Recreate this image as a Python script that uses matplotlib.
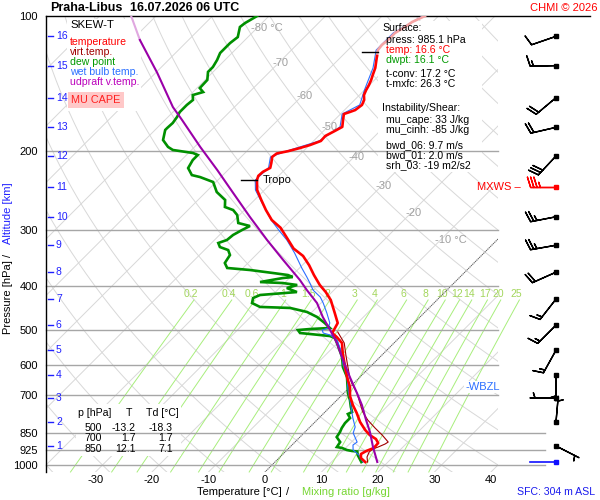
import numpy as np
import matplotlib
matplotlib.use("Agg")
import matplotlib.pyplot as plt
from matplotlib.patches import Rectangle
import matplotlib.transforms as mtransforms
from matplotlib.ticker import NullLocator, NullFormatter

plt.rcParams['font.family'] = ['Liberation Sans', 'DejaVu Sans']

# ------------------------------------------------------------------ data
STATION = "Praha-Libus"
TIMESTAMP = "16.07.2026 06 UTC"

# temperature
P_T = [100, 103.1, 105.8, 109.1, 113.1, 116.0, 119.1, 122.8, 126.6, 130.5, 135.3, 138.8, 142.4, 146.2,
       150.0, 153.8, 157.8, 162.0, 163.6, 165.3, 170.4, 176.6, 180.3, 185.0, 189.8, 193.8, 196.9, 200.0,
       202.4, 206.0, 212.3, 217.9, 222.4, 227.0, 231.9, 244.1, 256.9, 270.5, 284.7, 296.1, 312.3, 329.5,
       342.3, 358.9, 377.5, 397.3, 411.9, 429.1, 444.6, 458.6, 482.8, 495.3, 508.2, 518.7, 535.0, 563.2,
       605.0, 636.8, 670.4, 702.2, 735.3, 766.1, 802.4, 835.7, 857.6, 875.3, 893.4, 916.5, 930.8, 945.3,
       964.7, 985.1]
T_C = [-52.4, -53.6, -54.0, -54.7, -54.7, -54.9, -54.7, -53.8, -52.9, -52.0, -51.2, -50.6, -50.1, -49.7,
       -49.2, -48.3, -47.8, -48.1, -48.7, -49.4, -48.5, -47.4, -48.0, -48.8, -48.7, -49.9, -51.2, -52.7,
       -54.3, -54.5, -53.6, -52.9, -53.5, -53.6, -53.1, -51.3, -48.8, -46.2, -43.4, -40.5, -37.5, -34.5,
       -31.5, -28.8, -26.2, -23.4, -21.1, -18.8, -17.2, -15.8, -13.5, -13.1, -12.7, -11.2, -9.2, -7.3,
       -4.4, -2.3, 0.0, 1.6, 3.7, 5.8, 8.0, 10.3, 12.0, 13.8, 14.9, 15.0, 14.2, 13.8,
       14.5, 16.0]

# virtual temperature (lower part, above it coincides with temperature)
P_TV = [505.6, 535.0, 568.8, 608.1, 640.3, 656.9, 691.4, 727.8, 762.2, 794.2, 827.3, 857.6, 888.9,
        898.0, 912.0, 921.3, 935.5, 959.8, 985.1]
TV_C = [-11.9, -8.8, -6.4, -3.7, -1.6, -0.4, 2.3, 4.6, 6.7, 9.0, 11.7, 14.2, 16.5,
        16.3, 15.6, 15.0, 14.9, 15.4, 16.4]

# wet bulb temperature
P_TW = [100, 109.1, 119.1, 130.5, 146.2, 157.8, 165.3, 176.6, 189.8, 200.0, 206.0, 217.9, 231.9, 244.1,
        261.0, 284.7, 299.7, 315.4, 337.3, 364.1, 381.4, 393.3, 407.7, 422.5, 435.8, 458.6, 482.8, 495.3,
        500.5, 508.2, 513.5, 526.8, 560.3, 598.9, 636.8, 680.8, 716.7, 786.0, 823.1, 848.6, 888.9, 902.6,
        926.0, 950.0, 985.1]
TW_C = [-52.8, -55.0, -55.0, -52.4, -50.0, -48.2, -49.7, -47.8, -49.0, -53.0, -54.8, -53.2, -53.4, -51.6,
        -48.1, -43.5, -40.4, -37.2, -33.5, -29.6, -27.1, -25.5, -23.7, -21.2, -19.6, -17.2, -14.9, -14.3,
        -15.0, -14.3, -12.7, -10.6, -7.7, -5.1, -2.3, 0.2, 2.3, 6.0, 8.0, 8.7, 11.0, 10.8,
        11.7, 13.6, 15.6]

# dew point
P_TD = [100, 103.7, 105.8, 111.4, 114.9, 120.9, 125.3, 129.9, 133.2, 138.8, 144.7, 147.7, 150.0, 153.8,
        157.8, 163.6, 167.9, 173.1, 177.6, 179.4, 188.9, 195.7, 198.8, 201.9, 204.0, 209.3, 218.1, 226.1,
        228.4, 234.3, 246.6, 256.9, 266.3, 270.5, 277.5, 289.1, 293.6, 299.7, 307.4, 315.4, 320.3, 327.0,
        332.1, 340.7, 354.9, 364.1, 367.9, 373.6, 377.5, 381.4, 383.4, 391.3, 393.3, 397.3, 403.5, 411.9,
        418.2, 424.7, 435.8, 444.6, 446.9, 456.2, 468.2, 482.8, 495.3, 497.9, 500.5, 508.2, 513.5, 516.1,
        521.5, 540.5, 574.9, 605.0, 636.8, 691.4, 716.7, 742.9, 762.2, 769.9, 786.0, 806.5, 827.3, 844.4,
        866.5, 888.9, 912.0, 916.5, 926.0, 930.8, 933.0, 950.0, 985.1]
TD_C = [-82.1, -83.0, -83.2, -81.8, -82.1, -82.1, -81.4, -80.9, -80.9, -79.6, -79.5, -78.2, -79.5, -78.6,
        -78.8, -78.8, -78.4, -78.1, -78.2, -78.2, -76.8, -74.7, -73.3, -69.2, -68.0, -68.0, -67.4, -65.5,
        -63.7, -60.5, -58.1, -55.2, -54.0, -52.0, -50.4, -48.8, -46.2, -46.9, -47.6, -47.8, -48.8, -47.8,
        -45.8, -44.6, -44.1, -42.8, -38.4, -33.8, -30.8, -29.6, -31.2, -34.5, -30.3, -27.4, -28.7, -26.2,
        -32.2, -32.9, -32.2, -30.1, -24.6, -20.9, -18.2, -15.8, -14.0, -17.3, -19.3, -18.4, -14.5, -12.6,
        -11.3, -9.6, -6.7, -4.8, -2.3, 0.7, 2.3, 3.7, 4.8, 4.4, 5.5, 5.5, 5.8, 6.2,
        6.5, 8.0, 8.3, 9.4, 10.6, 11.7, 12.7, 13.4, 15.3]

# updraft (MU parcel) virtual temperature
P_PAR = [100, 113.1, 133.9, 159.5, 170.4, 195.7, 220.3, 247.9, 280.3, 315.4, 349.5, 387.3, 407.7,
         435.8, 468.2, 500.5, 535.0, 583.8, 636.8, 691.4, 735.3, 794.2, 844.4, 912.0, 984.7]
TPAR_C = [-104.4, -98.6, -89.7, -80.9, -77.0, -69.0, -61.9, -55.0, -47.8, -40.7, -34.3, -27.8, -24.8,
          -20.7, -17.2, -13.6, -10.1, -6.0, -1.8, 2.3, 5.3, 8.7, 11.5, 14.7, 18.1]

# altitude scale (km) and winds at those levels
ALT_KM = list(range(1, 17))
ALT_P = [907, 802, 709, 630, 555, 488, 427, 372, 324, 280, 240, 205, 177, 152, 129, 111]
WDIR = [117, 5, 270, 180, 209, 225, 218, 246, 260, 259, 270, 223, 257, 230, 269, 251]
WSPD_KT = [5, 5, 5, 5, 15, 15, 15, 20, 25, 25, 35, 30, 20, 20, 15, 10]
MXWS_KM = 11

P_LEVELS = [100, 200, 300, 400, 500, 600, 700, 850, 925, 1000]
T_TICKS = [-30, -20, -10, 0, 10, 20, 30, 40]
ISO_LABEL_T = [-80, -70, -60, -50, -40, -30, -20, -10]
ISO_LABEL_P = [106.3, 127.3, 150.7, 176.6, 206.0, 239.2, 274.4, 315.4]
ISO_LABEL_TXT = ["-80 °C", "-70", "-60", "-50", "-40", "-30", "-20", "-10 °C"]
MIX_RATIOS = [0.2, 0.4, 0.6, 1, 1.5, 2, 3, 4, 6, 8, 10, 12, 14, 17, 20, 25]

SFC_P = 985.1
TROPO_P = 231.9
TOP_MARK_P = 120.5
WBZL_P = 670

SURFACE_LINES = [("Surface:", "black", 0), ("press: 985.1 hPa", "black", 1), ("temp: 16.6 °C", "#ff0000", 1),
                 ("dwpt: 16.1 °C", "#009900", 1), ("t-conv: 17.2 °C", "black", 1), ("t-mxfc: 26.3 °C", "black", 1),
                 ("Instability/Shear:", "black", 0), ("mu_cape: 33 J/kg", "black", 1),
                 ("mu_cinh: -85 J/kg", "black", 1), ("bwd_06: 9.7 m/s", "black", 1),
                 ("bwd_01: 2.0 m/s", "black", 1), ("srh_03: -19 m2/s2", "black", 1)]
SURFACE_Y = [28, 40, 50, 60, 74, 84, 108, 120, 130, 145, 155, 165]

TAB_P = ["500", "700", "850"]
TAB_T = ["-13.2", "1.7", "12.1"]
TAB_TD = ["-18.3", "1.7", "7.1"]

# ------------------------------------------------------------------ geometry
W, H = 600, 500
AX_L, AX_R, AX_T, AX_B = 46, 498, 16, 472
PX_PER_DEC = 449.0
PX_PER_C = 5.65
SKEW = PX_PER_DEC / PX_PER_C
P_BOT = 100 * 10 ** ((AX_B - AX_T) / PX_PER_DEC)


def skx(t, p):
    return np.asarray(t, float) + SKEW * np.log10(1000.0 / np.asarray(p, float))


def xpx(px):
    return (px - 272.0) / PX_PER_C


def fx(px):
    return px / W


def fy(py):
    return 1 - py / H


fig = plt.figure(figsize=(6, 5), dpi=100)
ax = fig.add_axes([fx(AX_L), fy(AX_B), (AX_R - AX_L) / W, (AX_B - AX_T) / H])
ax.set_yscale('log')
ax.set_xlim(-40, 40)
ax.set_ylim(P_BOT, 100)
for s in ['top', 'right', 'bottom']:
    ax.spines[s].set_visible(False)
ax.spines['left'].set_linewidth(1.0)
ax.set_yticks(P_LEVELS)
ax.set_yticklabels([str(p) for p in P_LEVELS])
ax.yaxis.set_minor_locator(NullLocator())
ax.yaxis.set_minor_formatter(NullFormatter())
ax.tick_params(axis='y', length=0, pad=6, labelsize=8)
ax.set_xticks(skx(T_TICKS, P_BOT))
ax.set_xticklabels([str(t) for t in T_TICKS])
ax.tick_params(axis='x', length=0, pad=2, labelsize=8)

pp = np.geomspace(100, P_BOT, 300)
grey = '#d8d8d8'
# isotherms
for t in range(-130, 50, 10):
    ax.plot(skx(t, pp), pp, color=grey, lw=0.7, zorder=1)
# dry adiabats
for th in range(-40, 220, 10):
    tt = (th + 273.15) * (pp / 1000.0) ** 0.2857 - 273.15
    ax.plot(skx(tt, pp), pp, color=grey, lw=0.7, zorder=1)
# 0 C isotherm
ax.plot(skx(0, pp), pp, color='#505050', lw=0.7, ls=(0, (1, 1)), zorder=1.6)

# mixing ratio lines
pm = np.geomspace(429, P_BOT, 100)
for w in MIX_RATIOS:
    e = w * pm / (622.0 + w)
    lg = np.log(e / 6.112)
    td = 243.5 * lg / (17.67 - lg)
    ax.plot(skx(td, pm), pm, color='#a8ee7c', lw=0.7, zorder=1.5, clip_on=False)
    ax.text(skx(td[0], pm[0]) - 0.5, 416, f"{w:g}", color='#a3d65c', fontsize=7.5,
            ha='center', va='center', zorder=1.5)

# isotherm labels
for t, p, lab in zip(ISO_LABEL_T, ISO_LABEL_P, ISO_LABEL_TXT):
    ax.text(skx(t, p) - 1.06, p, lab, color='#a0a0a0', fontsize=8, ha='left', va='center', zorder=1.7)


# white boxes
def wbox(x0, y0, x1, y1, fc='white'):
    r = Rectangle((fx(x0), fy(y1)), (x1 - x0) / W, (y1 - y0) / H, transform=fig.transFigure,
                  facecolor=fc, edgecolor='none', zorder=2.2, clip_on=False)
    ax.add_patch(r)


wbox(67, 19, 141, 111)
wbox(378, 21, 482, 172)
wbox(76, 404, 181, 456)

# isobars
for p in P_LEVELS[1:]:
    xr = 48.3 if p >= 850 else 40
    ax.plot([-40, xr], [p, p], color='#a6a6a6', lw=1.0, zorder=2.5, clip_on=False)
ax.plot([-40, xpx(590)], [100, 100], color='black', lw=1.0, zorder=2.5, clip_on=False)

# ------------------------------------------------------------------ traces
P_Ta, T_a = np.array(P_T), np.array(T_C)
ax.plot(skx(TV_C, P_TV), P_TV, color='#a00000', lw=0.8, zorder=4.0)
ax.plot(skx(TD_C, P_TD), P_TD, color='#009000', lw=1.9, zorder=4.2, solid_joinstyle='miter')
ax.plot(skx(TW_C, P_TW), P_TW, color='#2a6fff', lw=0.8, zorder=4.3)
hi = P_Ta <= 120
k = np.argmax(~hi)
ax.plot(skx(T_a[:k + 1], P_Ta[:k + 1]), P_Ta[:k + 1], color='#f5a3a3', lw=1.9, zorder=4.4)
ax.plot(skx(T_a[k:], P_Ta[k:]), P_Ta[k:], color='#ff0000', lw=1.9, zorder=4.4)
P_Pa, T_Pa = np.array(P_PAR), np.array(TPAR_C)
ax.plot(skx(T_Pa[:2], P_Pa[:2]), P_Pa[:2], color='#e0a8e0', lw=1.5, zorder=4.6)
ax.plot(skx(T_Pa[1:], P_Pa[1:]), P_Pa[1:], color='#9a00a8', lw=1.5, zorder=4.6)

# tropopause and top markers
lp = np.log(P_Ta)
xt = skx(np.interp(np.log(TROPO_P), lp, T_a), TROPO_P)
ax.plot([xt - 2.9, xt], [TROPO_P, TROPO_P], color='black', lw=1.0, zorder=5)
ax.text(xt + 1.0, TROPO_P, "Tropo", fontsize=8, va='center', ha='left', zorder=5)
xm = skx(np.interp(np.log(TOP_MARK_P), lp, T_a), TOP_MARK_P)
ax.plot([xm - 2.8, xm], [TOP_MARK_P, TOP_MARK_P], color='black', lw=1.0, zorder=5)

# WBZL
ax.text(xpx(465), WBZL_P, "-WBZL", color='#2a6fff', fontsize=8, va='center', ha='left', zorder=3,
        bbox=dict(facecolor='white', edgecolor='none', pad=0.5))

# ------------------------------------------------------------------ altitude scale
btr = mtransforms.blended_transform_factory(ax.transAxes, ax.transData)
for km, p in zip(ALT_KM, ALT_P):
    ax.plot([(48 - AX_L) / 452, (53 - AX_L) / 452], [p, p], color='#2020ff', lw=1.0,
            transform=btr, zorder=3, clip_on=False)
    ax.text((56 - AX_L) / 452, p, str(km), color='#2020ff', fontsize=7.5, va='center', ha='left',
            transform=btr, zorder=3)

# ------------------------------------------------------------------ winds
XB = xpx(556)
d = np.radians(WDIR)
spd = np.array(WSPD_KT, float)
U = -spd * np.sin(d)
V = -spd * np.cos(d)
ALT_Pa = np.array(ALT_P, float)
isM = np.array(ALT_KM) == MXWS_KM
xb = np.full(len(ALT_P), XB)
ax.barbs(xb[~isM], ALT_Pa[~isM], U[~isM], V[~isM], length=6.1, pivot='tip', color='black',
         linewidth=1.0, clip_on=False, zorder=5)
ax.barbs(xb[isM], ALT_Pa[isM], U[isM], V[isM], length=6.1, pivot='tip', color='#ff0000',
         linewidth=1.0, clip_on=False, zorder=5)
ax.plot(xb[~isM], ALT_Pa[~isM], 's', ms=2.4, color='black', clip_on=False, zorder=6)
ax.plot(xb[isM], ALT_Pa[isM], 's', ms=2.4, color='#ff0000', clip_on=False, zorder=6)
ax.text(xpx(521), ALT_Pa[isM][0], "MXWS \u2013", color='#ff0000', fontsize=8, ha='right', va='center')
ax.plot([xpx(530), XB], [SFC_P, SFC_P], color='#1010ff', lw=1.2, clip_on=False, zorder=5)
ax.plot([XB], [SFC_P], 's', ms=2.4, color='#1010ff', clip_on=False, zorder=6)
ax.set_xlim(-40, 40)
ax.set_ylim(P_BOT, 100)

# ------------------------------------------------------------------ texts
fig.text(fx(50), fy(8), STATION, fontsize=9, fontweight='bold', va='center', ha='left')
fig.text(fx(130), fy(8), TIMESTAMP, fontsize=9, fontweight='bold', va='center', ha='left')
fig.text(fx(597), fy(8), "CHMI © 2026", fontsize=8, color='#ff0000', va='center', ha='right')

leg = [("SKEW-T", 'black', 25), ("temperature", '#ff0000', 42), ("virt.temp.", '#a00000', 52),
       ("dew point", '#009900', 62), ("wet bulb temp.", '#2a6fff', 72), ("udpraft v.temp.", '#bb00bb', 82)]
for txt, c, y in leg:
    fig.text(fx(70), fy(y), txt, color=c, fontsize=8.2 if txt == "SKEW-T" else 7.6, va='center', ha='left',
             zorder=6)
fig.text(fx(96), fy(100), "MU CAPE", color='#ff2020', fontsize=7.8, va='center', ha='center',
         bbox=dict(facecolor='#ffc8c8', edgecolor='none', pad=2.2))

for (txt, c, ind), y in zip(SURFACE_LINES, SURFACE_Y):
    fig.text(fx(382 + 4 * ind), fy(y), txt, color=c, fontsize=7.6, va='center', ha='left')

fig.text(fx(78), fy(413), "p [hPa]", fontsize=7.6, va='center', ha='left')
fig.text(fx(129), fy(413), "T", fontsize=7.6, va='center', ha='center')
fig.text(fx(146), fy(413), "Td [°C]", fontsize=7.6, va='center', ha='left')
for i, y in enumerate([428, 438, 449]):
    fig.text(fx(102), fy(y), TAB_P[i], fontsize=7.6, va='center', ha='right')
    fig.text(fx(136), fy(y), TAB_T[i], fontsize=7.6, va='center', ha='right')
    fig.text(fx(173), fy(y), TAB_TD[i], fontsize=7.6, va='center', ha='right')

fig.text(fx(197), fy(492), "Temperature [°C]", fontsize=8, va='center', ha='left')
fig.text(fx(288), fy(492), "/", fontsize=8, va='center', ha='center')
fig.text(fx(302), fy(492), "Mixing ratio [g/kg]", fontsize=8, color='#77d633', va='center', ha='left')
fig.text(fx(595), fy(492), "SFC: 304 m ASL", fontsize=7.6, color='#1a1aee', va='center', ha='right')

fig.text(fx(8), fy(297), "Pressure [hPa]", fontsize=8, rotation=90, va='center', ha='center')
fig.text(fx(8), fy(255), "/", fontsize=8, rotation=90, va='center', ha='center')
fig.text(fx(8), fy(213), "Altitude [km]", fontsize=8, rotation=90, va='center', ha='center', color='#2020ff')

fig.savefig("out.png", dpi=100)
